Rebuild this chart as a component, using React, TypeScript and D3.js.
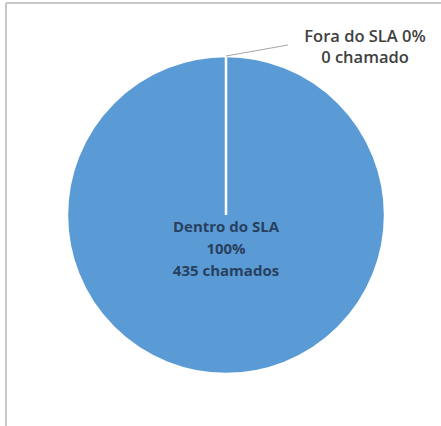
import React from "react";
import * as d3 from "d3";

const categories = ["Dentro do SLA", "Fora do SLA"];
const values = [435, 0];
const percents = ["100%", "0%"];
const countLabels = ["435 chamados", "0 chamado"];

const W = 441;
const H = 426;
const cx = 226;
const cy = 215;
const R = 159;

export default function App() {
  const pie = d3.pie<number>().sort(null).startAngle(0).endAngle(2 * Math.PI).value((d) => d);
  const arcs = pie(values);
  const arc = d3.arc<d3.PieArcDatum<number>>().innerRadius(0).outerRadius(R);
  const colors = ["#5b9bd5", "#ed7d31"];

  const zero = arcs[1];
  const [ex, ey] = [R * Math.sin(zero.startAngle), -R * Math.cos(zero.startAngle)];

  return (
    <svg width={W} height={H} style={{ position: "absolute", left: 0, top: 0 }}>
      <rect x={0} y={0} width={W} height={H} fill="#ffffff" />
      <line x1={6} y1={3} x2={W} y2={3} stroke="#c8c8c8" strokeWidth={2} />
      <line x1={6} y1={3} x2={6} y2={H} stroke="#c8c8c8" strokeWidth={2} />
      <g transform={`translate(${cx},${cy})`}>
        {arcs.map((a, i) => (
          <path key={i} d={arc(a) || ""} fill={colors[i]} stroke="#ffffff" strokeWidth={2.5} />
        ))}
        <line x1={ex} y1={ey} x2={62} y2={-170} stroke="#a6a6a6" strokeWidth={1} />
      </g>
      <g fontFamily="'Open Sans', sans-serif" fontSize={16.5} fontWeight={600} textAnchor="middle" fill="#404040">
        <text x={365} y={42}>{`${categories[1]} ${percents[1]}`}</text>
        <text x={365} y={63}>{countLabels[1]}</text>
      </g>
      <g fontFamily="'Open Sans', sans-serif" fontSize={15} fontWeight={700} textAnchor="middle" fill="#28405f">
        <text x={cx} y={232}>{categories[0]}</text>
        <text x={cx} y={254}>{percents[0]}</text>
        <text x={cx} y={276}>{countLabels[0]}</text>
      </g>
    </svg>
  );
}
